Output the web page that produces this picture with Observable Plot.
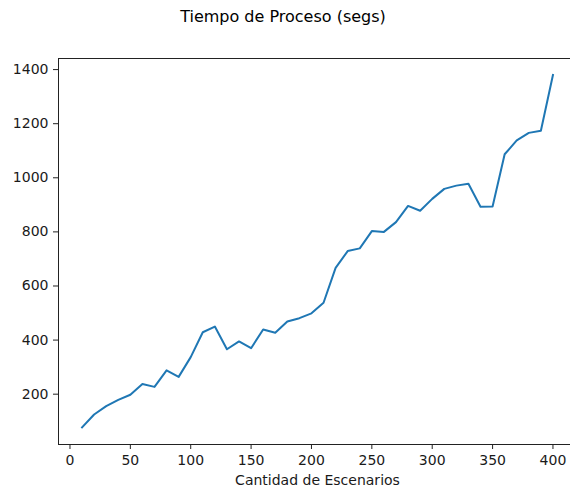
<!DOCTYPE html>
<html>
<head>
<meta charset="utf-8">
<script src="https://cdn.jsdelivr.net/npm/d3@7"></script>
<script src="https://cdn.jsdelivr.net/npm/@observablehq/plot@0.6"></script>
<style>
  html, body { margin: 0; padding: 0; background: #fff; overflow: hidden; width: 570px; height: 492px; }
  #title { height: 30px; width: 570px; font-family: "DejaVu Sans", sans-serif; font-size: 16px; color: #000;
           text-align: center; line-height: 16px; padding-top: 9px; box-sizing: border-box; text-indent: -4px; }
  #chart { width: 570px; overflow: hidden; }
  #chart svg { display: block; max-width: none !important; }
</style>
</head>
<body>
<div id="title">Tiempo de Proceso (segs)</div>
<div id="chart"></div>
<script>
const escenarios = [10, 20, 30, 40, 50, 60, 70, 80, 90, 100,
                    110, 120, 130, 140, 150, 160, 170, 180, 190, 200,
                    210, 220, 230, 240, 250, 260, 270, 280, 290, 300,
                    310, 320, 330, 340, 350, 360, 370, 380, 390, 400];
const tiempos = [77, 125, 156, 179, 198, 238, 227, 288, 264, 337,
                 429, 450, 366, 395, 370, 439, 427, 469, 481, 499,
                 538, 667, 729, 739, 803, 800, 836, 896, 878, 922,
                 959, 971, 978, 893, 894, 1087, 1138, 1166, 1174, 1380];
const xTicks = [0, 50, 100, 150, 200, 250, 300, 350, 400];
const yTicks = [200, 400, 600, 800, 1000, 1200, 1400];
const xLabel = "Cantidad de Escenarios";

const data = escenarios.map((e, i) => ({x: e, y: tiempos[i]}));

const chart = Plot.plot({
  width: 580,
  height: 462,
  marginLeft: 58,
  marginRight: 4,
  marginTop: 28,
  marginBottom: 48,
  style: {fontFamily: "DejaVu Sans, sans-serif", fontSize: "14px", color: "#1a1a1a", background: "#fff", maxWidth: "none"},
  x: {domain: [-9.5, 419.5]},
  y: {domain: [14, 1441]},
  marks: [
    Plot.frame({stroke: "#222", strokeWidth: 1}),
    Plot.axisX({ticks: xTicks, tickSize: 5, tickPadding: 6, fontSize: 14, stroke: "#222",
                label: xLabel, labelAnchor: "center", labelArrow: "none", labelOffset: 40}),
    Plot.axisY({ticks: yTicks, tickSize: 5, tickPadding: 5, fontSize: 14, stroke: "#222",
                tickFormat: d => String(d), label: null}),
    Plot.line(data, {x: "x", y: "y", stroke: "#1f77b4", strokeWidth: 2, strokeLinejoin: "round", strokeLinecap: "square"})
  ]
});
document.getElementById("chart").appendChild(chart);
</script>
</body>
</html>
